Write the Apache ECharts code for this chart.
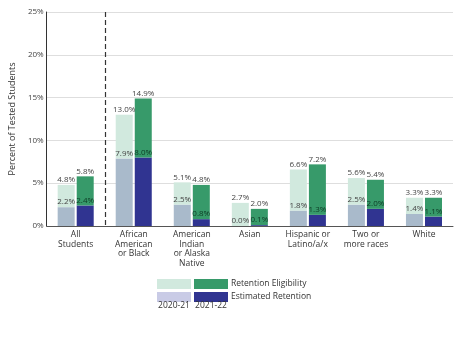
<!DOCTYPE html>
<html><head><meta charset="utf-8">
<script src="https://cdn.jsdelivr.net/npm/echarts@6/dist/echarts.min.js"></script>
<style>html,body{margin:0;padding:0;background:#fff}#c{width:465px;height:339px}</style>
</head><body><div id="c"></div>
<script>
var categories = ["All\nStudents", "African\nAmerican\nor Black", "American\nIndian\nor Alaska\nNative", "Asian", "Hispanic or\nLatino/a/x", "Two or\nmore races", "White"];
var eligibility2021 = [4.8, 13.0, 5.1, 2.7, 6.6, 5.6, 3.3];
var eligibility2122 = [5.8, 14.9, 4.8, 2.0, 7.2, 5.4, 3.3];
var retention2021 = [2.2, 7.9, 2.5, 0.0, 1.8, 2.5, 1.4];
var retention2122 = [2.4, 8.0, 0.8, 0.1, 1.3, 2.0, 1.1];
var yTicks = [0, 5, 10, 15, 20, 25];

var C = {e20:'#d1e9de', r20:'#a9bacb', e21:'#379a6a', r21:'#303491', leg20r:'#c9cbe6'};
var FONT = '"Open Sans", sans-serif';
function diff(a,b){return a.map(function(v,i){return +(v-b[i]).toFixed(1);});}

var chart = echarts.init(document.getElementById('c'));
var lbl = {show:true, position:'top', distance:1, fontSize:8, fontFamily:FONT, color:'#444'};
chart.setOption({
  animation:false,
  grid:{left:44.5, right:12, top:12, bottom:113},
  xAxis:{type:'category', data:categories,
    axisLine:{lineStyle:{color:'#555'}}, axisTick:{show:false},
    axisLabel:{interval:0, fontSize:8.5, fontFamily:FONT, color:'#333', lineHeight:9.5, margin:4}},
  yAxis:{type:'value', min:yTicks[0], max:yTicks[yTicks.length-1], interval:5,
    name:'Percent of Tested Students', nameLocation:'middle', nameGap:27,
    nameTextStyle:{fontSize:9, fontFamily:FONT, color:'#333'},
    axisLine:{show:true, lineStyle:{color:'#333'}}, axisTick:{show:false},
    axisLabel:{formatter:'{value}%', fontSize:8, fontFamily:FONT, color:'#444', margin:3},
    splitLine:{lineStyle:{color:'#dedede'}}},
  series:[
    {name:'r20', type:'bar', stack:'a', data:retention2021, barWidth:17, barGap:'12%',
      itemStyle:{color:C.r20},
      label:Object.assign({}, lbl, {formatter:function(p){return retention2021[p.dataIndex].toFixed(1)+'%';}})},
    {name:'e20', type:'bar', stack:'a', data:diff(eligibility2021, retention2021), barWidth:17,
      itemStyle:{color:C.e20},
      label:Object.assign({}, lbl, {formatter:function(p){return eligibility2021[p.dataIndex].toFixed(1)+'%';}})},
    {name:'r21', type:'bar', stack:'b', data:retention2122, barWidth:17,
      itemStyle:{color:C.r21},
      label:Object.assign({}, lbl, {color:'#0c3a24', formatter:function(p){return retention2122[p.dataIndex].toFixed(1)+'%';}})},
    {name:'e21', type:'bar', stack:'b', data:diff(eligibility2122, retention2122), barWidth:17,
      itemStyle:{color:C.e21},
      label:Object.assign({}, lbl, {formatter:function(p){return eligibility2122[p.dataIndex].toFixed(1)+'%';}})}
  ]
});

var x0 = chart.convertToPixel({xAxisIndex:0}, 0);
var x1 = chart.convertToPixel({xAxisIndex:0}, 1);
var yTop = chart.convertToPixel({yAxisIndex:0}, yTicks[yTicks.length-1]);
var yBot = chart.convertToPixel({yAxisIndex:0}, 0);
var xd = Math.round((x0+x1)/2)+0.5;
var ts = {fontSize:8.5, fontFamily:FONT, fill:'#333'};
chart.setOption({graphic:[
  {type:'line', shape:{x1:xd, y1:yTop, x2:xd, y2:yBot}, style:{stroke:'#333', lineWidth:1.2, lineDash:[5,3]}},
  {type:'rect', shape:{x:157, y:279, width:34, height:10}, style:{fill:C.e20}},
  {type:'rect', shape:{x:194, y:279, width:34, height:10}, style:{fill:C.e21}},
  {type:'rect', shape:{x:157, y:292, width:34, height:10}, style:{fill:C.leg20r}},
  {type:'rect', shape:{x:194, y:292, width:34, height:10}, style:{fill:C.r21}},
  {type:'text', x:231, y:284, style:Object.assign({text:'Retention Eligibility', verticalAlign:'middle'}, ts)},
  {type:'text', x:231, y:297, style:Object.assign({text:'Estimated Retention', verticalAlign:'middle'}, ts)},
  {type:'text', x:174, y:306, style:Object.assign({text:'2020-21', align:'center', verticalAlign:'middle'}, ts)},
  {type:'text', x:211, y:306, style:Object.assign({text:'2021-22', align:'center', verticalAlign:'middle'}, ts)}
]});
</script></body></html>
